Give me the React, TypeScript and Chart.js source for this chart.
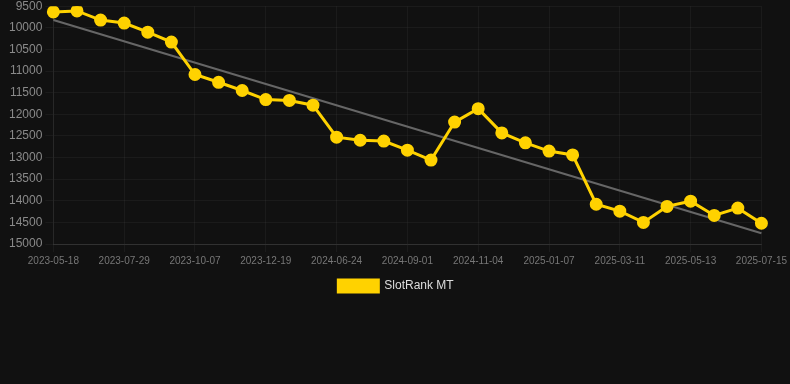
import React, { useEffect, useRef } from "react";
import { Chart, registerables } from "chart.js";

Chart.register(...registerables);

const dates = [
  "2023-05-18", "2023-06-11", "2023-07-05", "2023-07-29", "2023-08-22", "2023-09-14",
  "2023-10-07", "2023-10-31", "2023-11-25", "2023-12-19", "2024-02-20", "2024-04-22",
  "2024-06-24", "2024-07-17", "2024-08-09", "2024-09-01", "2024-09-22", "2024-10-13",
  "2024-11-04", "2024-11-25", "2024-12-16", "2025-01-07", "2025-01-28", "2025-02-18",
  "2025-03-11", "2025-04-01", "2025-04-22", "2025-05-13", "2025-06-03", "2025-06-24",
  "2025-07-15",
];

const rankValues = [
  9633, 9610, 9820, 9890, 10100, 10330, 11080, 11260, 11450, 11660, 11680, 11790,
  12530, 12600, 12620, 12830, 13060, 12180, 11870, 12430, 12660, 12850, 12940,
  14080, 14240, 14500, 14130, 14010, 14340, 14170, 14520,
];

const trendStart = 9820;
const trendEnd = 14750;

const yMin = 9500;
const yMax = 15000;
const yStep = 500;

export default function App() {
  const ref = useRef<HTMLCanvasElement>(null);
  useEffect(() => {
    if (!ref.current) return;
    const trend = dates.map((_, i) =>
      i === 0 ? trendStart : i === dates.length - 1 ? trendEnd : null
    );
    const chart = new Chart(ref.current, {
      type: "line",
      data: {
        labels: dates,
        datasets: [
          {
            label: "SlotRank MT",
            data: rankValues,
            borderColor: "#ffd200",
            backgroundColor: "#ffd200",
            borderWidth: 3,
            pointRadius: 5,
            pointHoverRadius: 5,
            pointBackgroundColor: "#ffd200",
            pointBorderColor: "#ffd200",
            tension: 0,
          },
          {
            label: "trend",
            data: trend,
            borderColor: "#666666",
            backgroundColor: "#666666",
            borderWidth: 2,
            pointRadius: 0,
            spanGaps: true,
            tension: 0,
          },
        ],
      },
      options: {
        animation: false,
        responsive: true,
        maintainAspectRatio: false,
        layout: { padding: { left: 6, right: 4, top: 0, bottom: 0 } },
        plugins: {
          legend: {
            position: "bottom",
            labels: {
              color: "#dddddd",
              boxWidth: 40,
              boxHeight: 12,
              font: { size: 12 },
              filter: (item) => item.text !== "trend",
            },
          },
          tooltip: { enabled: false },
        },
        scales: {
          x: {
            grid: { color: "rgba(255,255,255,0.045)" },
            border: { color: "rgba(255,255,255,0.1)" },
            ticks: {
              color: "#777777",
              font: { size: 10 },
              autoSkip: false,
              maxRotation: 0,
              callback: (_v, i) => (i % 3 === 0 ? dates[i] : null),
            },
          },
          y: {
            reverse: true,
            min: yMin,
            max: yMax,
            grid: { color: "rgba(255,255,255,0.045)" },
            border: { color: "rgba(255,255,255,0.06)" },
            ticks: {
              color: "#8a8a8a",
              font: { size: 12 },
              stepSize: yStep,
              callback: (v) => String(v),
            },
          },
        },
      },
    });
    return () => chart.destroy();
  }, []);
  return (
    <div
      style={{
        position: "fixed",
        left: 0,
        top: 0,
        width: 790,
        height: 384,
        background: "#111111",
        overflow: "hidden",
      }}
    >
      <div style={{ position: "relative", top: -4, width: 790, height: 306 }}>
        <canvas ref={ref} />
      </div>
    </div>
  );
}
